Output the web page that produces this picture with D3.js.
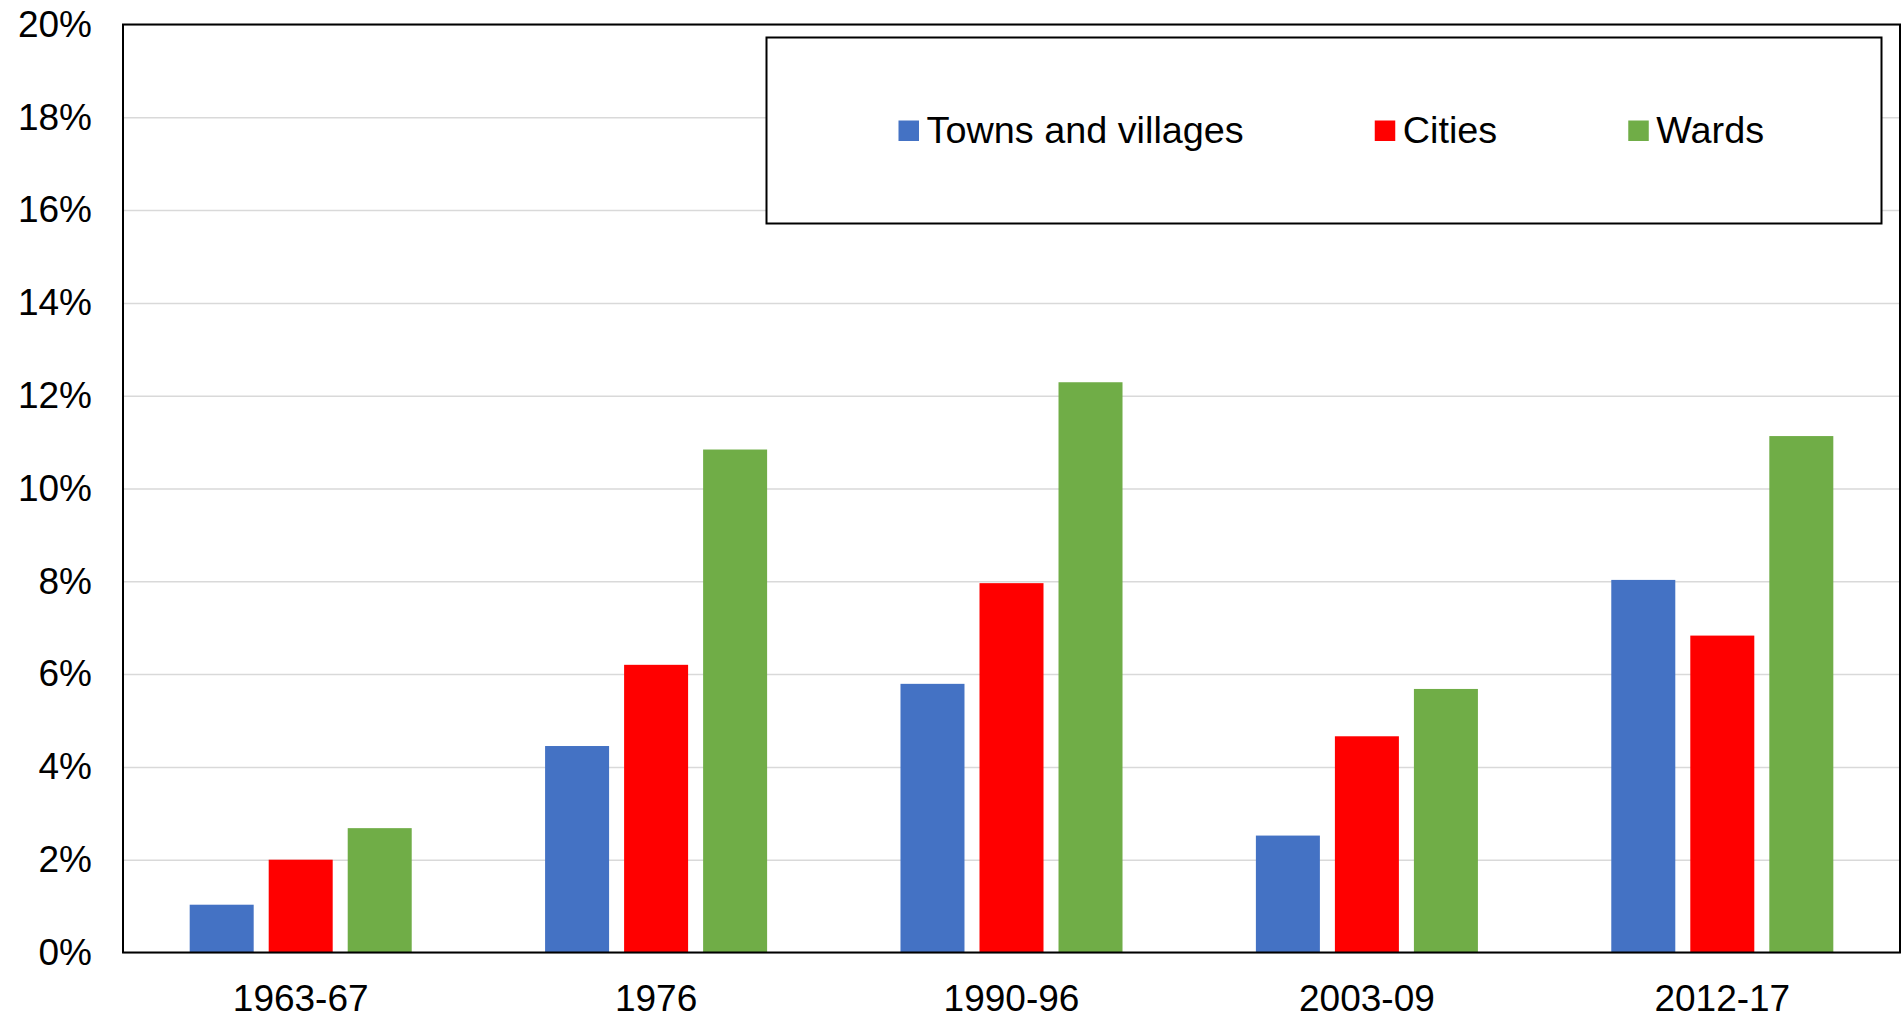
<!DOCTYPE html>
<html>
<head>
<meta charset="utf-8">
<script src="https://cdn.jsdelivr.net/npm/d3@7"></script>
<style>
  body { margin: 0; background: #fff; }
  text { font-family: "Liberation Sans", Arial, sans-serif; fill: #000; }
</style>
</head>
<body>
<div class="chart"></div>
<script>
// chart data
var periods = ["1963-67", "1976", "1990-96", "2003-09", "2012-17"];
var seriesNames = ["Towns and villages", "Cities", "Wards"];
var townsValues = [1.03, 4.45, 5.79, 2.52, 8.03];
var citiesValues = [2.0, 6.2, 7.96, 4.66, 6.83];
var wardsValues = [2.68, 10.84, 12.29, 5.68, 11.13];
var yTicks = [0, 2, 4, 6, 8, 10, 12, 14, 16, 18, 20];
var colors = ["#4472C4", "#FF0000", "#70AD47"];

var svgWidth = 1901;
var svgHeight = 1017;

var margin = { top: 24.5, right: 1, bottom: 64.5, left: 123 };
var chartWidth = svgWidth - margin.left - margin.right;
var chartHeight = svgHeight - margin.top - margin.bottom;

var svg = d3.select(".chart")
    .append("svg")
    .attr("width", svgWidth)
    .attr("height", svgHeight);

var chart = svg.append("g")
    .attr("transform", "translate(" + margin.left + "," + margin.top + ")");

var rows = periods.map(function(p, i) {
    return { period: p, values: [townsValues[i], citiesValues[i], wardsValues[i]] };
});

var x0 = d3.scaleBand().domain(periods).range([0, chartWidth]).padding(0);
var x1 = d3.scaleBand().domain(d3.range(seriesNames.length))
    .range([0, x0.bandwidth()])
    .paddingInner(0.19)
    .paddingOuter(0.844);
var y = d3.scaleLinear().domain([0, 20]).range([chartHeight, 0]);

// gridlines + y labels
var leftAxis = d3.axisLeft(y)
    .tickValues(yTicks)
    .tickSize(-chartWidth)
    .tickPadding(31)
    .tickFormat(function(d) { return d + "%"; });

var yAxisG = chart.append("g").call(leftAxis);
yAxisG.select(".domain").remove();
yAxisG.selectAll(".tick line")
    .attr("stroke", "#d9d9d9")
    .attr("stroke-width", 1.5);
yAxisG.selectAll(".tick text")
    .attr("font-size", "37px")
    .attr("fill", "#000")
    .style("font-family", "'Liberation Sans', Arial, sans-serif");

// bars
var groups = chart.selectAll(".group")
    .data(rows)
    .enter()
    .append("g")
    .attr("class", "group")
    .attr("transform", function(d) { return "translate(" + x0(d.period) + ",0)"; });

groups.selectAll("rect")
    .data(function(d) { return d.values; })
    .enter()
    .append("rect")
    .attr("x", function(d, i) { return x1(i); })
    .attr("y", function(d) { return y(d); })
    .attr("width", x1.bandwidth())
    .attr("height", function(d) { return chartHeight - y(d); })
    .attr("fill", function(d, i) { return colors[i]; });

// frame
chart.append("rect")
    .attr("x", 0)
    .attr("y", 0)
    .attr("width", chartWidth)
    .attr("height", chartHeight)
    .attr("fill", "none")
    .attr("stroke", "#000")
    .attr("stroke-width", 2);

// x labels
var bottomAxis = d3.axisBottom(x0).tickSize(0).tickPadding(0);
var xAxisG = chart.append("g")
    .attr("transform", "translate(0," + chartHeight + ")")
    .call(bottomAxis);
xAxisG.select(".domain").remove();
xAxisG.selectAll(".tick text")
    .attr("font-size", "37px")
    .attr("fill", "#000")
    .attr("dy", null)
    .attr("y", 58)
    .style("font-family", "'Liberation Sans', Arial, sans-serif");

// legend
var legend = svg.append("g");
legend.append("rect")
    .attr("x", 766.5)
    .attr("y", 37.5)
    .attr("width", 1115)
    .attr("height", 186)
    .attr("fill", "#fff")
    .attr("stroke", "#000")
    .attr("stroke-width", 2);

var lx = 898.5;
seriesNames.forEach(function(name, i) {
    legend.append("rect")
        .attr("x", lx)
        .attr("y", 120.5)
        .attr("width", 20.5)
        .attr("height", 20.5)
        .attr("fill", colors[i]);
    var t = legend.append("text")
        .attr("x", lx + 28)
        .attr("y", 143)
        .attr("font-size", "37.8px")
        .text(name);
    lx = lx + 28 + t.node().getComputedTextLength() + 131;
});
</script>
</body>
</html>
